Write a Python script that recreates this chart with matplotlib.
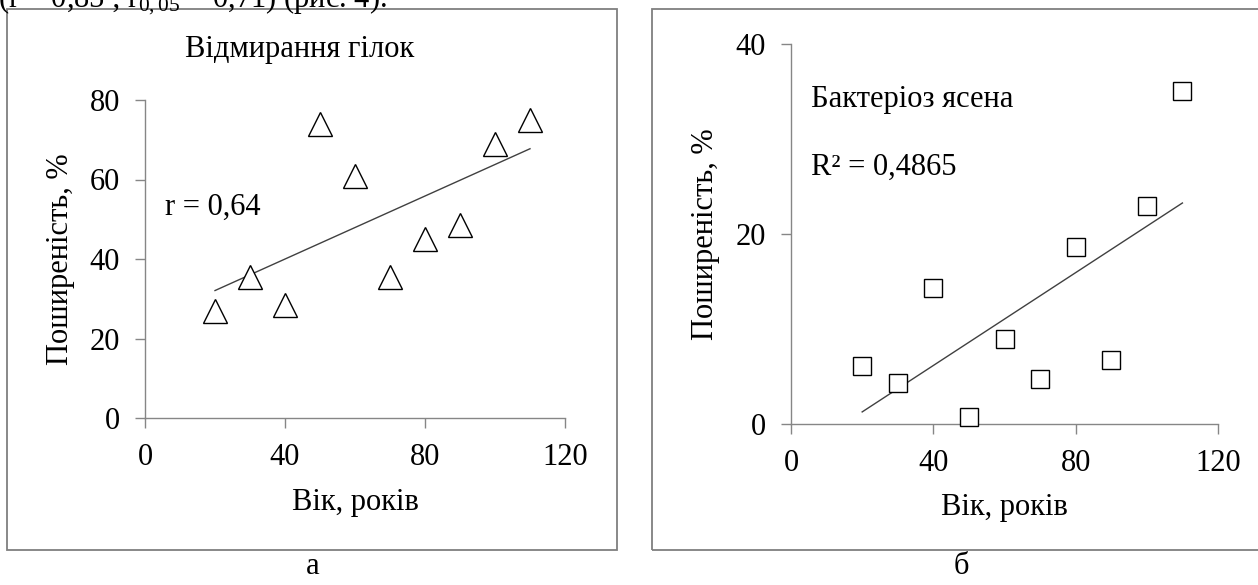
import numpy as np
import matplotlib
matplotlib.use('Agg')
import matplotlib.pyplot as plt
from matplotlib.patches import Rectangle

plt.rcParams['font.family'] = ['Liberation Serif', 'DejaVu Serif']
plt.rcParams['mathtext.fontset'] = 'custom'
plt.rcParams['mathtext.rm'] = 'Liberation Serif'
plt.rcParams['mathtext.it'] = 'Liberation Serif'

# вік, років
age = [20, 30, 40, 50, 60, 70, 80, 90, 100, 110]
# відмирання гілок, %
dieback = [27, 35.5, 28.5, 74, 61, 35.5, 45, 48.5, 69, 75]
# бактеріоз ясена, %
bacteriosis = [6.1, 4.4, 14.3, 0.8, 9.0, 4.8, 18.7, 6.8, 23.0, 35.1]

xticks_a = [0, 40, 80, 120]
yticks_a = [0, 20, 40, 60, 80]
xticks_b = [0, 40, 80, 120]
yticks_b = [0, 20, 40]

W, H = 1258, 585
fig = plt.figure(figsize=(W / 100, H / 100), dpi=100)

fs = 22
axis_col = '#868686'
frame_col = '#7f7f7f'

# рамки навколо панелей
fig.patches.append(Rectangle((7 / W, 1 - 550 / H), 610 / W, 541 / H, transform=fig.transFigure,
                             fill=False, edgecolor=frame_col, lw=1.3))
fig.patches.append(Rectangle((652 / W, 1 - 550 / H), 620 / W, 541 / H, transform=fig.transFigure,
                             fill=False, edgecolor=frame_col, lw=1.3))

# обрізаний рядок тексту зверху
fig.text(-2 / W, 1 - 7 / H, '(r = 0,85 ; r$_{0,05}$ = 0,71) (рис. 4).', fontsize=fs,
         va='baseline', ha='left')


def style(ax, xt, yt):
    for s in ['top', 'right']:
        ax.spines[s].set_visible(False)
    for s in ['left', 'bottom']:
        ax.spines[s].set_color(axis_col)
        ax.spines[s].set_linewidth(1.0)
    ax.set_xticks(xt)
    ax.set_yticks(yt)
    ax.set_xlim(xt[0], xt[-1])
    ax.set_ylim(yt[0], yt[-1])
    ax.tick_params(direction='out', length=7, width=1.0, color=axis_col,
                   labelsize=fs, pad=11)
    ax.patch.set_visible(False)
    for sp in ax.spines.values():
        sp.set_clip_on(False)


def trend(ax, x, y):
    k, b = np.polyfit(x, y, 1)
    xs = np.array([min(x), max(x)])
    ax.plot(xs, k * xs + b, color='#404040', lw=1.0, clip_on=False)


# панель а
ax1 = fig.add_axes([145 / W, 1 - 418 / H, 420 / W, 318 / H])
style(ax1, xticks_a, yticks_a)
trend(ax1, age, dieback)
ax1.plot(age, dieback, linestyle='none', marker='^', ms=17, mfc='white', mec='black',
         mew=1.0, clip_on=False, zorder=3)
ax1.text(5.7, 53, 'r = 0,64', fontsize=fs, va='center', ha='left')
ax1.set_xlabel('Вік, років', fontsize=fs)
ax1.set_ylabel('Поширеність, %', fontsize=fs)
ax1.xaxis.set_label_coords(0.5, -0.267)
ax1.yaxis.set_label_coords(-0.202, 0.5)
ax1.xaxis.label.set_va('center')
ax1.yaxis.label.set_va('center')
fig.text(300 / W, 1 - 50 / H, 'Відмирання гілок', fontsize=fs, ha='center', va='center')
fig.text(313 / W, 1 - 566 / H, 'а', fontsize=fs, ha='center', va='center')

# панель б
ax2 = fig.add_axes([791 / W, 1 - 424.3 / H, 427 / W, 380 / H])
style(ax2, xticks_b, yticks_b)
trend(ax2, age, bacteriosis)
ax2.plot(age, bacteriosis, linestyle='none', marker='s', ms=13, mfc='white', mec='black',
         mew=1.0, clip_on=False, zorder=3)
ax2.text(5.5, 34.2, 'Бактеріоз ясена', fontsize=fs, va='center', ha='left')
ax2.text(5.5, 27.0, 'R² = 0,4865', fontsize=fs, va='center', ha='left')
ax2.set_xlabel('Вік, років', fontsize=fs)
ax2.set_ylabel('Поширеність, %', fontsize=fs)
ax2.xaxis.set_label_coords(0.5, -0.220)
ax2.yaxis.set_label_coords(-0.201, 0.5)
ax2.xaxis.label.set_va('center')
ax2.yaxis.label.set_va('center')
fig.text(961 / W, 1 - 567 / H, 'б', fontsize=fs, ha='center', va='center')

fig.savefig('out.png', dpi=100)
